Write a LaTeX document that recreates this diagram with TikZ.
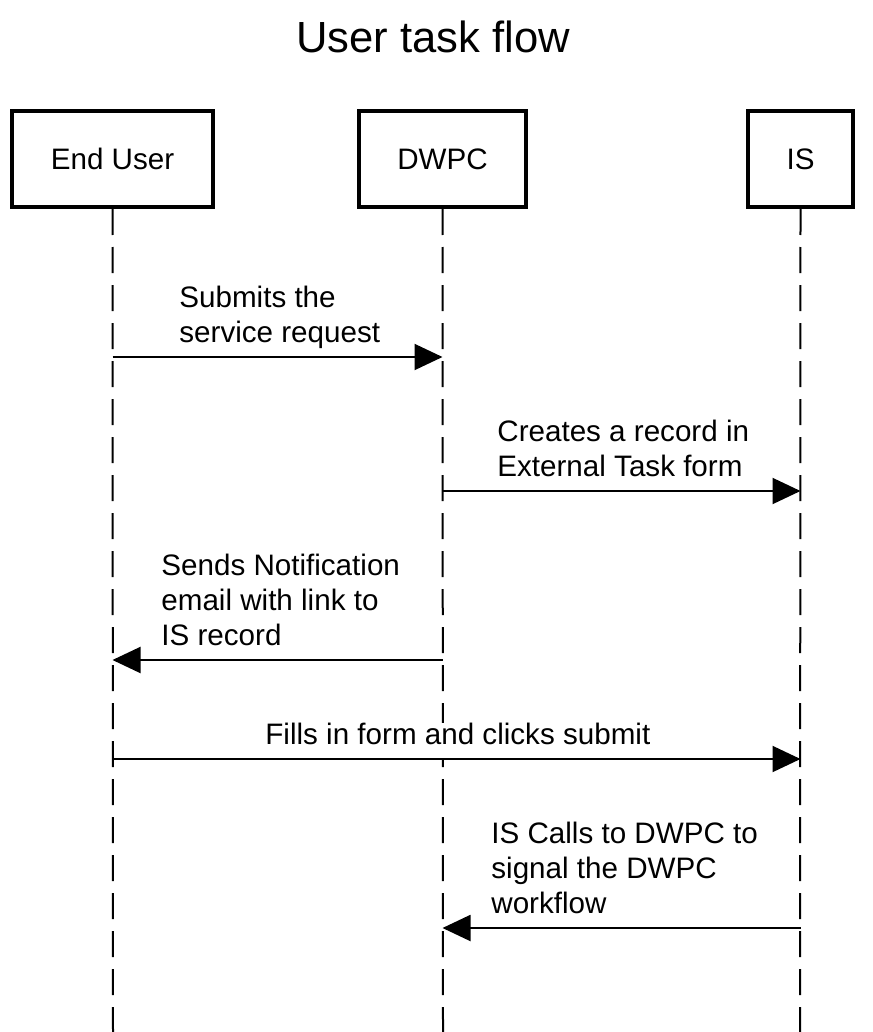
\documentclass[tikz,border=0pt]{standalone}
\usepackage{fontspec}
\setmainfont{Liberation Sans}
\usepackage{tikz}
\usetikzlibrary{arrows.meta,positioning}

\begin{document}
\begin{tikzpicture}[
    x=0.5pt, y=-0.5pt,
    actor/.style={draw, line width=2pt, minimum height=48pt,
      font=\fontsize{14.8}{17.5}\selectfont},
    lifeline/.style={line width=1pt, dash pattern=on 13pt off 6pt},
    msg/.style={line width=1pt, -{Triangle[length=14pt,width=13pt]}},
    lbl/.style={anchor=south west, align=left, inner sep=0pt, text depth=7pt,
      fill=white, font=\fontsize{14.8}{17.5}\selectfont},
  ]
  \useasboundingbox (0,0) rectangle (872,1032);

  % Title
  \node[font=\fontsize{21.8}{26}\selectfont] (title) at (433,37) {User task flow};

  % Participants
  \node[actor, minimum width=100.5pt] (user) at (112.5,159) {End User};
  \node[actor, minimum width=83.5pt] (dwpc) at (442.5,159) {DWPC};
  \node[actor, minimum width=52.5pt] (is) at (800.5,159) {IS};

  % Lifelines
  \coordinate (user-end) at (113,1032);
  \coordinate (dwpc-end) at (443,1032);
  \coordinate (is-end) at (800,1032);
  \draw[lifeline] (user.south) -- (user-end);
  \draw[lifeline] (dwpc.south) -- (dwpc-end);
  \draw[lifeline] (is.south) -- (is-end);

  % Message labels
  \node[lbl] (submit) at (179,357) {Submits the\\service request};
  \node[lbl] (record) at (497,491) {Creates a record in\\External Task form};
  \node[lbl] (notify) at (161,660) {Sends Notification\\email with link to\\IS record};
  \node[lbl] (fill) at (265,759) {Fills in form and clicks submit};
  \node[lbl] (signal) at (491,928) {IS Calls to DWPC to\\signal the DWPC\\workflow};

  % Messages
  \draw[msg] (user |- 0,357) -- (dwpc |- 0,357);
  \draw[msg] (dwpc |- 0,491) -- (is |- 0,491);
  \draw[msg] (dwpc |- 0,660) -- (user |- 0,660);
  \draw[msg] (user |- 0,759) -- (is |- 0,759);
  \draw[msg] (is |- 0,928) -- (dwpc |- 0,928);
\end{tikzpicture}
\end{document}
